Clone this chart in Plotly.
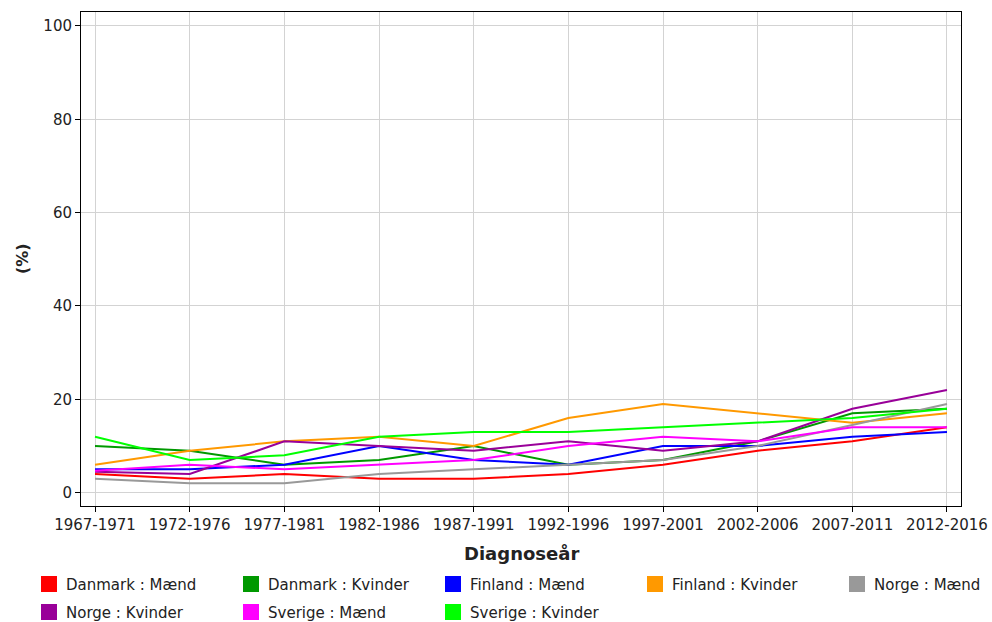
import plotly.graph_objects as go

periods = ["1967-1971", "1972-1976", "1977-1981", "1982-1986", "1987-1991",
           "1992-1996", "1997-2001", "2002-2006", "2007-2011", "2012-2016"]

series_names = ["Danmark : Mænd", "Danmark : Kvinder", "Finland : Mænd", "Finland : Kvinder",
                "Norge : Mænd", "Norge : Kvinder", "Sverige : Mænd", "Sverige : Kvinder"]

danmark_maend   = [4, 3, 4, 3, 3, 4, 6, 9, 11, 14]
danmark_kvinder = [10, 9, 6, 7, 10, 6, 7, 11, 17, 18]
finland_maend   = [5, 5, 6, 10, 7, 6, 10, 10, 12, 13]
finland_kvinder = [6, 9, 11, 12, 10, 16, 19, 17, 15, 17]
norge_maend     = [3, 2, 2, 4, 5, 6, 7, 10, 14.5, 19]
norge_kvinder   = [4.5, 4, 11, 10, 9, 11, 9, 11, 18, 22]
sverige_maend   = [4.7, 6, 5, 6, 7, 10, 12, 11, 14, 14]
sverige_kvinder = [12, 7, 8, 12, 13, 13, 14, 15, 16, 18]

series_values = [danmark_maend, danmark_kvinder, finland_maend, finland_kvinder,
                 norge_maend, norge_kvinder, sverige_maend, sverige_kvinder]
colors = ["#ff0000", "#009900", "#0000ff", "#ff9900",
          "#999999", "#990099", "#ff00ff", "#00ff00"]

y_ticks = [0, 20, 40, 60, 80, 100]

W, H = 992, 622
ML, MR, MT, MB = 81, 31, 12, 116
PW, PH = W - ML - MR, H - MT - MB

fig = go.Figure()
for name, vals, col in zip(series_names, series_values, colors):
    fig.add_trace(go.Scatter(x=periods, y=vals, mode="lines", name=name,
                             line=dict(color=col, width=2), showlegend=False))

def px_x(px):
    return (px - ML) / PW

def px_y(py):
    return (H - MB - py) / PH

shapes = []
annotations = []
for i, (name, col) in enumerate(zip(series_names, colors)):
    row, c = divmod(i, 5)
    x0 = 41 + c * 202
    y0 = 576 + row * 28
    shapes.append(dict(type="rect", xref="paper", yref="paper",
                       x0=px_x(x0), x1=px_x(x0 + 16), y0=px_y(y0), y1=px_y(y0 + 16),
                       fillcolor=col, line=dict(width=0)))
    annotations.append(dict(xref="paper", yref="paper", x=px_x(x0 + 23), y=px_y(y0 + 9),
                            text=name, showarrow=False, xanchor="left", yanchor="middle",
                            font=dict(size=15, color="#222222", family="DejaVu Sans")))

annotations.append(dict(xref="paper", yref="paper", x=0.5, y=px_y(553),
                        text="<b>Diagnoseår</b>", showarrow=False, xanchor="center",
                        yanchor="middle", font=dict(size=18, color="#222222", family="DejaVu Sans")))
annotations.append(dict(xref="paper", yref="paper", x=px_x(22), y=px_y(259),
                        text="<b>(%)</b>", showarrow=False, xanchor="center", textangle=-90,
                        yanchor="middle", font=dict(size=16, color="#222222", family="DejaVu Sans")))

fig.update_layout(
    width=W, height=H, autosize=False,
    margin=dict(l=ML, r=MR, t=MT, b=MB),
    paper_bgcolor="white", plot_bgcolor="white",
    font=dict(family="DejaVu Sans", size=15, color="#222222"),
    shapes=shapes, annotations=annotations,
    showlegend=False,
)
fig.update_xaxes(type="category", range=[-0.148, 9.148], automargin=False,
                 showgrid=True, gridcolor="#d3d3d3", gridwidth=1,
                 showline=True, linecolor="black", linewidth=1, mirror=True,
                 ticks="outside", ticklen=5, tickcolor="black",
                 tickfont=dict(size=15, color="#222222"))
fig.update_yaxes(range=[-2.85, 102.98], tickvals=y_ticks, automargin=False,
                 showgrid=True, gridcolor="#d3d3d3", gridwidth=1, zeroline=False,
                 showline=True, linecolor="black", linewidth=1, mirror=True,
                 ticks="outside", ticklen=5, tickcolor="black",
                 tickfont=dict(size=15, color="#222222"))

fig.write_html("out.html", config={"displayModeBar": False},
               post_script="document.body.style.margin='0';document.body.style.overflow='hidden';")
